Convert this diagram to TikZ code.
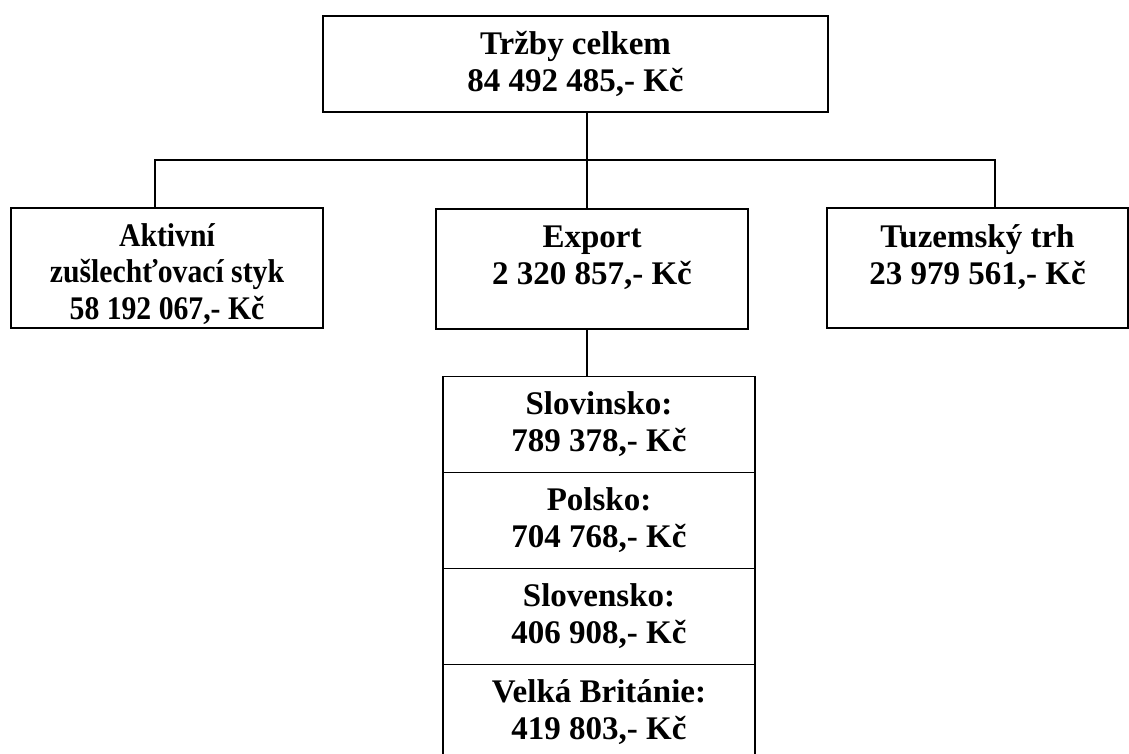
\documentclass[tikz,border=0pt]{standalone}
\usepackage{fontspec}
\setmainfont{Liberation Serif}
\usetikzlibrary{positioning}
\tikzset{
  box/.style={rectangle, draw=black, line width=1.5pt, outer sep=0pt,
    inner sep=2pt, align=center, font=\bfseries\fontsize{33}{37}\selectfont},
  topbox/.style={box, minimum width=505pt, minimum height=96pt},
  rowbox/.style={box, minimum width=312pt, minimum height=120pt},
  cntbox/.style={box, minimum width=312pt, minimum height=96pt},
  line/.style={line width=1.2pt, color=black}
}
\begin{document}
\begin{tikzpicture}[x=1pt, y=-1pt]
  \useasboundingbox (0,0) rectangle (1129,753);
  \node[topbox] (t0) at (575.5,64) {Tržby celkem\\84 492 485,- Kč};
  \node[rowbox, inner ysep=0pt, font=\bfseries\fontsize{33}{36.5}\selectfont\addfontfeature{FakeStretch=0.9}]
    (r1) at (167,268) {\rule{0pt}{35pt}Aktivní\\zušlechťovací styk\\58 192 067,- Kč};
  \node[rowbox] (r2) at (592,269) {Export\\2 320 857,- Kč\\[-10pt]~};
  \node[rowbox, minimum width=301pt] (r3) at (977.5,268) {Tuzemský trh\\23 979 561,- Kč\\[-10pt]~};
  \node[cntbox] (e1) at (599,424.5) {Slovinsko:\\789 378,- Kč};
  \node[cntbox, below=0pt of e1] (e2) {Polsko:\\704 768,- Kč};
  \node[cntbox, below=0pt of e2] (e3) {Slovensko:\\406 908,- Kč};
  \node[cntbox, below=0pt of e3] (e4) {Velká Británie:\\419 803,- Kč};

  \coordinate (j0) at (587,160);
  \coordinate (j1) at (155,160);
  \coordinate (j3) at (995,160);
  \draw[line] (j0 |- t0.south) -- (j0);
  \draw[line] (j1 |- r1.north) -- (j1) -- (j3) -- (j3 |- r3.north);
  \draw[line] (j0) -- (j0 |- r2.north);
  \draw[line] (j0 |- r2.south) -- (j0 |- e1.north);
\end{tikzpicture}
\end{document}
